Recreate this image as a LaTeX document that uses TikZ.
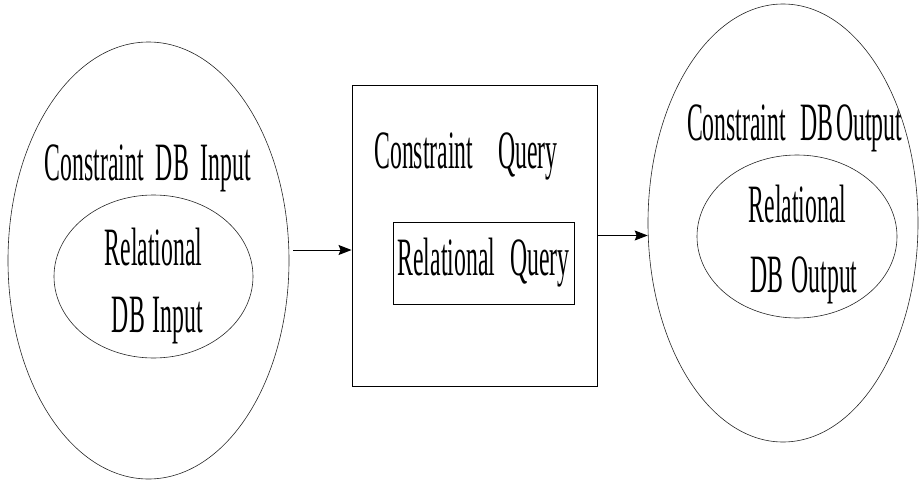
\documentclass[tikz,border=0pt]{standalone}
\usepackage{fontspec}
\newfontfamily\narrowserif[FakeStretch=0.44]{Liberation Serif}
\usetikzlibrary{positioning}
\usetikzlibrary{shapes.geometric, arrows.meta}

\begin{document}
\begin{tikzpicture}[
			x=1pt, y=-1pt,
			dbset/.style={
				ellipse,
				draw=black!85,
				line width=0.6pt,
				inner sep=0pt
			},
			querybox/.style={
				rectangle,
				draw=black,
				line width=0.9pt,
				inner sep=0pt,
				font=\narrowserif\fontsize{54}{60}\selectfont
			},
			lbl/.style={
				anchor=base,
				inner sep=0pt,
				font=\narrowserif\fontsize{54}{60}\selectfont
			},
			flow/.style={
				-{Stealth[length=13pt, width=10pt, inset=2pt]},
				line width=1pt
			}
			]
			\useasboundingbox (0,0) rectangle (919,482);
			
			% Entrada: base de datos de restricciones
			\node[dbset, minimum width=281pt, minimum height=437pt] (dbin) at (148.5,260.5) {};
			\node[dbset, minimum width=199pt, minimum height=163pt] (reldbin) at (153.5,276.5) {};
			\node[lbl] (dbinlbl) at (148,180) {Constraint\hspace{12pt}DB\hspace{12pt}Input};
			\node[lbl] (reldbinlbl) at (153.5,265) {Relational};
			\node[lbl] (reldbinlbl2) at (157.5,332) {DB\hspace{8pt}Input};
			
			% Consulta
			\node[querybox, minimum width=245pt, minimum height=301pt] (cquery) at (474.5,235.5) {};
			\node[lbl] (cquerylbl) at (466,168) {Constraint\hspace{25pt}Query};
			\node[querybox, minimum width=181pt, minimum height=82pt] (rquery) at (483.5,263) {Relational\hspace{15pt}Query};
			
			% Salida: base de datos de restricciones
			\node[dbset, minimum width=270pt, minimum height=438pt] (dbout) at (783,223) {};
			\node[dbset, minimum width=200pt, minimum height=163pt] (reldbout) at (797,236.5) {};
			\node[lbl] (dboutlbl) at (794.5,140) {Constraint\hspace{14pt}DB\hspace{3pt}Output};
			\node[lbl] (reldboutlbl) at (797.5,222) {Relational};
			\node[lbl] (reldboutlbl2) at (804,292) {DB\hspace{8pt}Output};
			
			% Flechas
			\coordinate (inflow) at ([yshift=-14.5pt]cquery.west);
			\coordinate (inflowstart) at ([xshift=4pt]dbin.east);
			\draw[flow] (inflowstart |- inflow) -- (inflow);
			\draw[flow] (cquery.east) -- (dbout.west |- cquery.east);
			
		\end{tikzpicture}
\end{document}
